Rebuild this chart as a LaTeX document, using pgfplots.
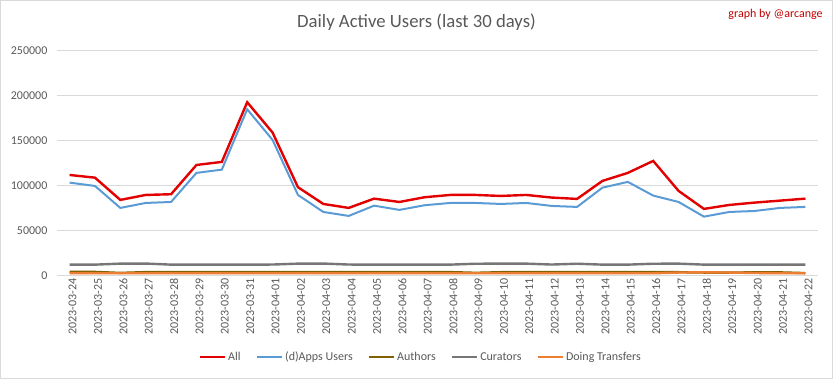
\documentclass[border=0pt]{standalone}
\usepackage{fontspec}
\setmainfont{Carlito}
\usepackage{pgfplots}
\usepackage{pgfplotstable}
\pgfplotsset{compat=1.18}
\definecolor{cAll}{RGB}{226,0,0}
\definecolor{cApps}{RGB}{91,155,213}
\definecolor{cAuth}{RGB}{128,96,0}
\definecolor{cCur}{RGB}{118,118,118}
\definecolor{cTr}{RGB}{237,125,49}
\definecolor{txt}{RGB}{89,89,89}
\definecolor{grd}{RGB}{217,217,217}
\definecolor{sig}{RGB}{192,0,0}
\pgfplotstableread{
x all apps authors curators transfers
0 111400 102900 3800 11800 2200
1 108400 99200 3700 11800 2200
2 83700 74800 2600 12900 2200
3 89200 80300 3500 13000 2200
4 90000 81400 3500 11800 2200
5 122500 113700 3500 11800 2200
6 125900 117300 3500 11800 2200
7 192200 184400 3500 11800 2200
8 158500 150300 3500 11900 2200
9 97800 89200 3500 12900 2200
10 79200 70300 3500 13000 2200
11 74800 65900 3500 11900 2200
12 85100 77300 3500 11800 2200
13 81400 72600 3500 11800 2200
14 86700 77800 3500 11800 2200
15 89200 80300 3500 11800 2200
16 89200 80300 2700 12800 2200
17 88100 79200 3400 12900 2200
18 89200 80300 3500 12900 2200
19 86300 77000 3400 11900 2200
20 84800 75900 3400 12800 2200
21 104800 97300 3400 11800 2200
22 113700 103700 3400 11800 2200
23 127000 88500 3400 12800 2200
24 93700 81400 3400 12900 3000
25 73700 65100 3000 11800 3300
26 78100 70300 3000 11800 3000
27 80700 71400 3200 11800 2500
28 82900 74800 3200 11800 2200
29 85100 75900 2400 11800 2200
}\datatable
\begin{document}
\begin{tikzpicture}
\draw[grd, line width=0.75pt] (0.5pt,0.5pt) rectangle (832.5pt,378.5pt);
\node[txt, font=\fontsize{18.7}{22}\selectfont] at (416.5pt,357pt) {Daily Active Users (last 30 days)};
\node[sig, font=\fontsize{12}{14}\selectfont, anchor=east] at (826pt,365pt) {graph by @arcange};
\begin{axis}[
  at={(57pt,103.7pt)}, anchor=south west,
  scale only axis, width=761pt, height=225pt,
  xmin=-0.5, xmax=29.5, ymin=0, ymax=250000,
  clip=false,
  axis line style={draw=none},
  major tick length=0pt,
  ymajorgrids, grid style={draw=grd, line width=0.75pt},
  ytick={0,50000,100000,150000,200000,250000},
  scaled y ticks=false,
  /pgf/number format/.cd, fixed, 1000 sep={}, assume math mode=true, /pgfplots/.cd,
  yticklabel style={font=\fontsize{12}{14}\selectfont, text=txt, xshift=-6pt},
  xtick={0,...,29},
  xticklabels={2023-03-24,2023-03-25,2023-03-26,2023-03-27,2023-03-28,2023-03-29,2023-03-30,2023-03-31,2023-04-01,2023-04-02,2023-04-03,2023-04-04,2023-04-05,2023-04-06,2023-04-07,2023-04-08,2023-04-09,2023-04-10,2023-04-11,2023-04-12,2023-04-13,2023-04-14,2023-04-15,2023-04-16,2023-04-17,2023-04-18,2023-04-19,2023-04-20,2023-04-21,2023-04-22},
  xticklabel style={font=\fontsize{12}{14}\selectfont, text=txt, rotate=90, anchor=east, yshift=-3pt},
  legend columns=-1,
  legend style={draw=none, font=\fontsize{12}{14}\selectfont, text=txt, at={(0.478,-0.363)}, anchor=center,
    /tikz/every even column/.append style={column sep=13pt}},
  legend image code/.code={\draw[#1, line width=2.5pt] (0pt,0pt) -- (25pt,0pt);},
]
\addplot[cAll, line width=2.4pt] table[x=x, y=all] {\datatable};
\addlegendentry{All}
\addplot[cApps, line width=2pt] table[x=x, y=apps] {\datatable};
\addlegendentry{(d)Apps Users}
\addplot[cAuth, line width=2.4pt] table[x=x, y=authors] {\datatable};
\addlegendentry{Authors}
\addplot[cCur, line width=2.4pt] table[x=x, y=curators] {\datatable};
\addlegendentry{Curators}
\addplot[cTr, line width=2.4pt] table[x=x, y=transfers] {\datatable};
\addlegendentry{Doing Transfers}
\end{axis}
\end{tikzpicture}
\end{document}
